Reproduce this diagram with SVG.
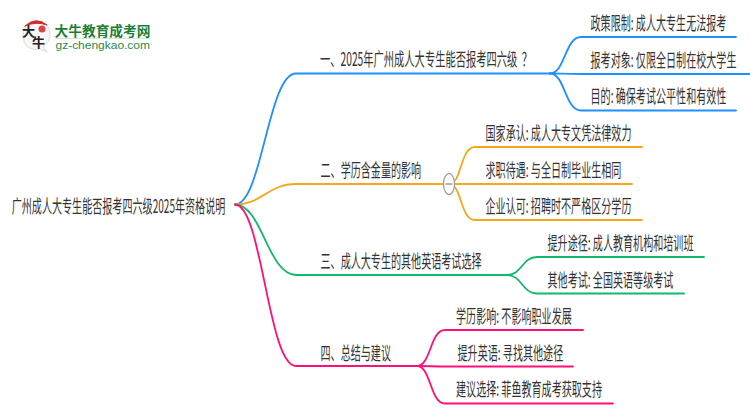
<svg xmlns="http://www.w3.org/2000/svg" width="750" height="410" viewBox="0 0 750 410">
<style>
text{font-family:"Noto Sans CJK SC","Liberation Sans",sans-serif;font-size:18.5px;fill:#333}
path{fill:none;stroke-linecap:round}
.b{stroke:#1e90ff}.o{stroke:#f5a81c}.g{stroke:#10b96b}.p{stroke:#ff0f78}
.w{stroke-width:1.800}.t{stroke-width:1.800}
</style>
<rect width="750" height="410" fill="#fff"/>
<g id="logo">
<path d="M40 49Q24 52 23 36Q24 21 37 21Q50 22 50 35Q50 42 43 46L47 52Z" style="fill:#f7f7f7;stroke:#ddd;stroke-width:1"/>
<path d="M25 26Q36 16 47 25Q36 21 25 26Z" style="fill:#d8262c;stroke:#d8262c;stroke-width:1"/>
<circle cx="42" cy="29" r="3.500" fill="#d8464a"/>
<text transform="translate(22 36)" style="font-size:13px;fill:#222;font-weight:700">大</text>
<text transform="translate(32 47)" style="font-size:13px;fill:#222;font-weight:700">牛</text>
<text x="54.500" y="36" textLength="96" lengthAdjust="spacingAndGlyphs" style="font-size:13.700px;fill:#1d7f36;font-weight:700">大牛教育成考网</text>
<path d="M55 38.500H150" style="stroke:#d5e6d8;stroke-width:1"/>
<text x="55.500" y="49" textLength="94.500" lengthAdjust="spacingAndGlyphs" style="font-family:'Liberation Sans',sans-serif;font-size:10.500px;fill:#2a8a45">gz-chengkao.com</text>
</g>
<g id="connectors">
<path class="b w" d="M235 204.500C262 204.500 268 73.500 296 73.500H550"/>
<path class="o w" d="M235 204.500C262 204.500 268 184 296 184H449"/>
<path class="g w" d="M235 204.500C262 204.500 268 275 296 275H507"/>
<path class="p w" d="M235 204.500C262 204.500 268 366 296 366H417"/>
<path class="b t" d="M550 73.500C565 73.500 565 37 581 37H736"/>
<path class="b t" d="M550 73.500C560 73.500 565 74 581 74H750"/>
<path class="b t" d="M550 73.500C565 73.500 565 110.500 581 110.500H736"/>
<path class="o t" d="M449 184C462 184 460 147 475 147H642"/>
<path class="o t" d="M449 184H632"/>
<path class="o t" d="M449 184C462 184 460 220 475 220H642"/>
<path class="g t" d="M507 275C522 275 522 257 537 257H704"/>
<path class="g t" d="M507 275C522 275 522 293.500 537 293.500H684"/>
<path class="p t" d="M417 366C431 366 430 330 445 330H583"/>
<path class="p t" d="M417 366C428 366 435 366.500 445 366.500H573"/>
<path class="p t" d="M417 366C431 366 430 403.500 445 403.500H613"/>
</g>
<g id="root"><text transform="translate(11.700 213) scale(.545 1)">广州成人大专生能否报考四六级2025年资格说明</text></g>
<g id="n1"><text transform="translate(320 66) scale(.555 1)">一、2025年广州成人大专生能否报考四六级<tspan dx="8">？</tspan></text></g>
<g id="n2"><text transform="translate(320.500 176.500) scale(.545 1)">二、学历含金量的影响</text></g>
<g id="n3"><text transform="translate(320.500 268) scale(.545 1)">三、成人大专生的其他英语考试选择</text></g>
<g id="n4"><text transform="translate(320.500 360) scale(.545 1)">四、总结与建议</text></g>
<g id="n11"><text transform="translate(590.500 30) scale(.545 1)">政策限制: 成人大专生无法报考</text></g>
<g id="n12"><text transform="translate(590.500 66.500) scale(.545 1)">报考对象: 仅限全日制在校大学生</text></g>
<g id="n13"><text transform="translate(590.500 103) scale(.545 1)">目的: 确保考试公平性和有效性</text></g>
<g id="n21"><text transform="translate(485.500 140) scale(.545 1)">国家承认: 成人大专文凭法律效力</text></g>
<g id="n22"><text transform="translate(485.500 176.500) scale(.545 1)">求职待遇: 与全日制毕业生相同</text></g>
<g id="n23"><text transform="translate(485.500 213) scale(.545 1)">企业认可: 招聘时不严格区分学历</text></g>
<g id="n31"><text transform="translate(547.500 250) scale(.545 1)">提升途径: 成人教育机构和培训班</text></g>
<g id="n32"><text transform="translate(547.500 286.500) scale(.545 1)">其他考试: 全国英语等级考试</text></g>
<g id="n41"><text transform="translate(456 323) scale(.545 1)">学历影响: 不影响职业发展</text></g>
<g id="n42"><text transform="translate(457.500 360) scale(.545 1)">提升英语: 寻找其他途径</text></g>
<g id="n43"><text transform="translate(456 395.500) scale(.545 1)">建议选择: 菲鱼教育成考获取支持</text></g>
<g id="collapse">
<ellipse cx="449" cy="184" rx="5.500" ry="10.500" fill="#fff" stroke="#999" stroke-width="1.200"/>
<path d="M446 184H452" style="stroke:#666;stroke-width:1.200"/>
</g>
</svg>
